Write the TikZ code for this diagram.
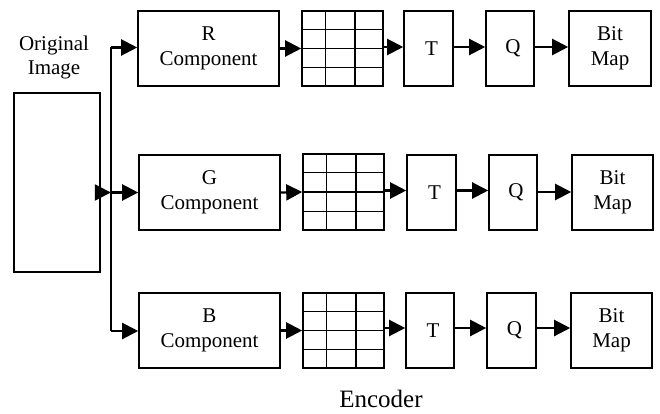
\documentclass[tikz,border=0pt]{standalone}
\usepackage{fontspec}
\setmainfont{Liberation Serif}
\usetikzlibrary{arrows.meta,calc}
\tikzset{
  box/.style={draw, line width=1.6pt, inner sep=0pt, align=center,
    font=\fontsize{21}{25}\selectfont},
  conn/.style={line width=2.2pt, -{Triangle[length=16pt,width=16pt]}},
  bus/.style={line width=2pt},
  gridline/.style={line width=1.6pt},
  lbl/.style={font=\fontsize{21}{25}\selectfont}
}
\newcommand{\mygridlines}[1]{%
  \draw[gridline] ($(#1.north west)!0.296!(#1.north east)$) -- ($(#1.south west)!0.296!(#1.south east)$);
  \draw[gridline] ($(#1.north west)!0.654!(#1.north east)$) -- ($(#1.south west)!0.654!(#1.south east)$);
  \draw[gridline] ($(#1.north west)!0.25!(#1.south west)$) -- ($(#1.north east)!0.25!(#1.south east)$);
  \draw[gridline] ($(#1.north west)!0.5!(#1.south west)$) -- ($(#1.north east)!0.5!(#1.south east)$);
  \draw[gridline] ($(#1.north west)!0.75!(#1.south west)$) -- ($(#1.north east)!0.75!(#1.south east)$);
}
\begin{document}
\begin{tikzpicture}[x=1pt,y=-1pt]
\useasboundingbox (0,0) rectangle (660,414);
% original image
\node[box, minimum width=86pt, minimum height=179pt] (orig) at (57,182.5) {};
\node[font=\fontsize{21}{24}\selectfont, align=center, inner sep=0pt] (origlbl) at (54,57) {Original\\Image};
% R row
\node[box, minimum width=141pt, minimum height=75pt] (rc) at (208.5,48.5) {R\\Component};
\node[box, minimum width=81pt, minimum height=75pt] (rg) at (342.5,48.5) {};
\node[box, minimum width=49pt, minimum height=75pt, label={[xshift=3pt,lbl]center:T}] (rt) at (428.5,48.5) {};
\node[box, minimum width=48pt, minimum height=75pt, label={[xshift=3pt,lbl]center:Q}] (rq) at (510,48.5) {};
\node[box, minimum width=82pt, minimum height=75pt] (rb) at (610,48.5) {Bit\\Map};
% G row
\node[box, minimum width=141pt, minimum height=75pt] (gc) at (209.5,192.5) {G\\Component};
\node[box, minimum width=81pt, minimum height=76pt] (gg) at (343.5,192) {};
\node[box, minimum width=49pt, minimum height=75pt, label={[xshift=3pt,lbl]center:T}] (gt) at (431.5,192.5) {};
\node[box, minimum width=48pt, minimum height=75pt, label={[xshift=3pt,lbl]center:Q}] (gq) at (513,192.5) {};
\node[box, minimum width=81pt, minimum height=75pt] (gb) at (612.5,192.5) {Bit\\Map};
% B row
\node[box, minimum width=141pt, minimum height=75pt] (bc) at (209.5,330.5) {B\\Component};
\node[box, minimum width=81pt, minimum height=75pt] (bg) at (343.5,330.5) {};
\node[box, minimum width=48pt, minimum height=75pt, label={[xshift=3pt,lbl]center:T}] (bt) at (430,330.5) {};
\node[box, minimum width=49pt, minimum height=75pt, label={[xshift=3pt,lbl]center:Q}] (bq) at (511.5,330.5) {};
\node[box, minimum width=81pt, minimum height=75pt] (bb) at (611.5,330.5) {Bit\\Map};
\mygridlines{rg}
\mygridlines{gg}
\mygridlines{bg}
% bus
\coordinate (busT) at (110.8,47.5);
\coordinate (busM) at (110.8,192.5);
\coordinate (busB) at (110.8,331);
\draw[bus] (busT) -- (busB);
\draw[conn] (orig.east |- busM) -- (busM);
\draw[conn] (busM) -- (gc.west);
\draw[conn] (busT) -- (rc.west |- busT);
\draw[conn] (busB) -- (bc.west |- busB);
% chains
\draw[conn] (rc.east) -- (rg.west);
\draw[conn] (rg.east |- 0,47) -- (rt.west |- 0,47);
\draw[conn] (rt.east |- 0,47) -- (rq.west |- 0,47);
\draw[conn] (rq.east |- 0,47) -- (rb.west |- 0,47);
\draw[conn] (gc.east) -- (gg.west);
\draw[conn] (gg.east |- 0,190.5) -- (gt.west |- 0,190.5);
\draw[conn] (gt.east |- 0,190.5) -- (gq.west |- 0,190.5);
\draw[conn] (gq.east |- 0,192) -- (gb.west |- 0,192);
\draw[conn] (bc.east) -- (bg.west);
\draw[conn] (bg.east |- 0,328) -- (bt.west |- 0,328);
\draw[conn] (bt.east |- 0,328) -- (bq.west |- 0,328);
\draw[conn] (bq.east |- 0,328) -- (bb.west |- 0,328);
% caption
\node[font=\fontsize{25}{29}\selectfont, inner sep=0pt] (enc) at (381,399) {Encoder};
\end{tikzpicture}
\end{document}
